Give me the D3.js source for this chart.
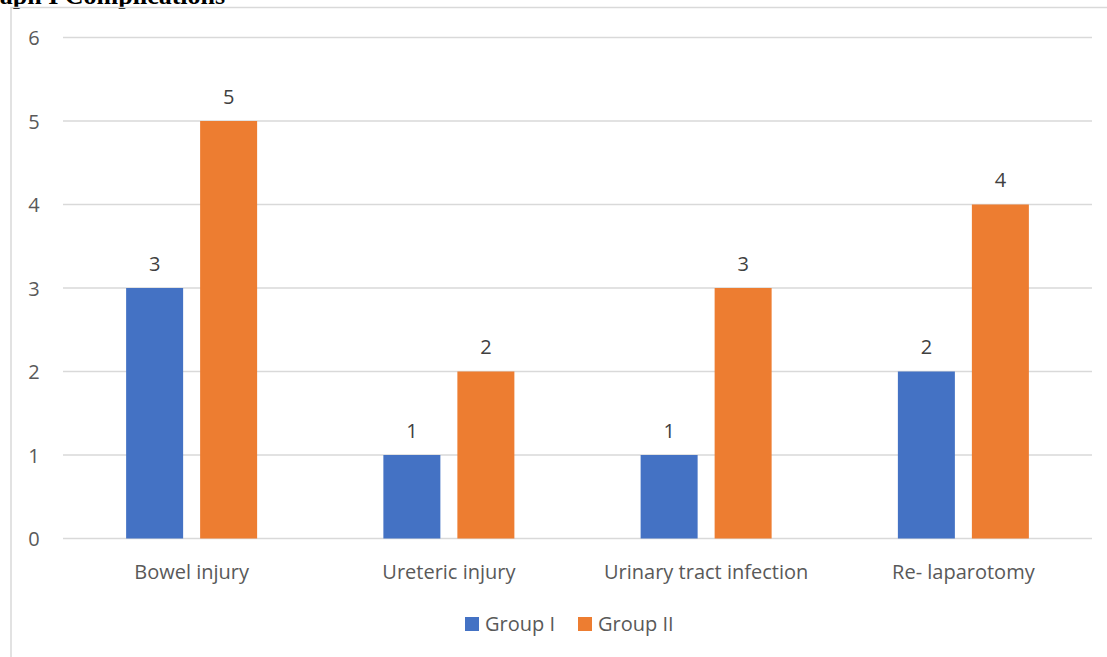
<!DOCTYPE html>
<html>
<head>
<meta charset="utf-8">
<script src="https://cdn.jsdelivr.net/npm/d3@7"></script>
<style>
  html, body { margin: 0; padding: 0; background: #fff; }
  svg { display: block; }
</style>
</head>
<body>
<svg id="chart" width="1107" height="657"></svg>
<script>
// Complication counts per group
const categories = ["Bowel injury", "Ureteric injury", "Urinary tract infection", "Re- laparotomy"];
const seriesNames = ["Group I", "Group II"];
const groupI = [3, 1, 1, 2];
const groupII = [5, 2, 3, 4];
const yTicks = [0, 1, 2, 3, 4, 5, 6];
const colors = ["#4472C4", "#ED7D31"];

const data = categories.map((c, i) => ({ category: c, values: [groupI[i], groupII[i]] }));

const svg = d3.select("#chart");
const W = 1107, H = 657;
const font = "'Open Sans', sans-serif";

// Heading text running off the left edge
svg.append("text")
  .attr("x", -32).attr("y", 4)
  .attr("font-family", "'Liberation Serif', 'Times New Roman', serif")
  .attr("font-weight", "bold")
  .attr("font-size", 26)
  .attr("fill", "#000")
  .text("Graph I Complications");

// Chart area frame
svg.append("rect")
  .attr("x", 11).attr("y", 7.5)
  .attr("width", W).attr("height", H)
  .attr("fill", "none")
  .attr("stroke", "#d9d9d9")
  .attr("stroke-width", 1.5);

const plot = { left: 63, right: 1092, top: 37.5, bottom: 538.5 };

const x0 = d3.scaleBand()
  .domain(categories)
  .range([plot.left, plot.right]);

const y = d3.scaleLinear()
  .domain([0, 6])
  .range([plot.bottom, plot.top]);

const barW = 57, barGap = 17;
const x1 = d3.scaleOrdinal()
  .domain([0, 1])
  .range([-(barW + barGap / 2), barGap / 2]);

// Horizontal gridlines
svg.append("g")
  .selectAll("line")
  .data(yTicks)
  .join("line")
  .attr("x1", plot.left).attr("x2", plot.right)
  .attr("y1", d => y(d)).attr("y2", d => y(d))
  .attr("stroke", "#d9d9d9")
  .attr("stroke-width", 1.3);

// Y axis labels
const yAxis = d3.axisLeft(y).tickValues(yTicks).tickSize(0).tickPadding(0).tickFormat(d3.format("d"));
const yg = svg.append("g")
  .attr("transform", "translate(34,0)")
  .call(yAxis);
yg.select(".domain").remove();
yg.selectAll("text")
  .attr("font-family", font)
  .attr("font-size", 20)
  .attr("fill", "#595959")
  .attr("text-anchor", "middle")
  .attr("dy", "0.36em");

// Bars
const groups = svg.append("g")
  .selectAll("g")
  .data(data)
  .join("g")
  .attr("transform", d => `translate(${x0(d.category) + x0.bandwidth() / 2},0)`);

groups.selectAll("rect")
  .data(d => d.values.map((v, i) => ({ v, i })))
  .join("rect")
  .attr("x", d => x1(d.i))
  .attr("width", barW)
  .attr("y", d => y(d.v))
  .attr("height", d => y(0) - y(d.v))
  .attr("fill", d => colors[d.i]);

// Value labels
groups.selectAll("text.val")
  .data(d => d.values.map((v, i) => ({ v, i })))
  .join("text")
  .attr("class", "val")
  .attr("x", d => x1(d.i) + barW / 2)
  .attr("y", d => y(d.v) - 17.5)
  .attr("text-anchor", "middle")
  .attr("font-family", font)
  .attr("font-size", 20)
  .attr("fill", "#404040")
  .text(d => d.v);

// Category axis labels
const xAxis = d3.axisBottom(x0).tickSize(0).tickPadding(0);
const xg = svg.append("g")
  .attr("transform", "translate(0,579)")
  .call(xAxis);
xg.select(".domain").remove();
xg.selectAll("text")
  .attr("font-family", font)
  .attr("font-size", 20)
  .attr("fill", "#595959")
  .attr("y", 0)
  .attr("dy", 0);

// Legend
const legend = svg.append("g").attr("transform", "translate(465,617)");
const legendOffsets = [0, 113];
seriesNames.forEach((name, i) => {
  const g = legend.append("g").attr("transform", `translate(${legendOffsets[i]},0)`);
  g.append("rect").attr("width", 14).attr("height", 14).attr("fill", colors[i]);
  g.append("text")
    .attr("x", 20).attr("y", 14)
    .attr("font-family", font)
    .attr("font-size", 20)
    .attr("fill", "#595959")
    .text(name);
});
</script>
</body>
</html>
